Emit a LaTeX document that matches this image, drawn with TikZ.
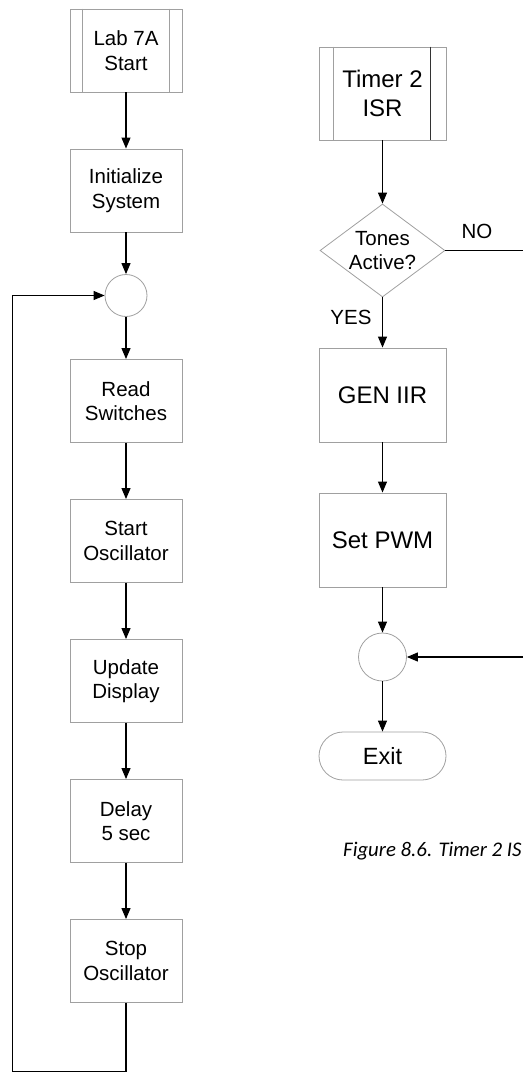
\documentclass[tikz,border=0pt]{standalone}
\usepackage{fontspec}
\setmainfont{Liberation Sans}
\newfontfamily\captfont{Carlito}
\usetikzlibrary{arrows.meta,shapes.geometric,calc}
\definecolor{boxgray}{HTML}{A0A0A0}
\tikzset{
  box/.style={draw=boxgray,line width=0.9pt,fill=white,minimum width=112pt,minimum height=83pt,inner sep=0pt,align=center,font=\fontsize{20.5}{24.5}\selectfont},
  rbox/.style={draw=boxgray,line width=0.9pt,fill=white,minimum width=127pt,minimum height=94pt,inner sep=0pt,align=center,font=\fontsize{24}{29}\selectfont},
  joint/.style={draw=boxgray,line width=0.8pt,circle,inner sep=0pt},
  arr/.style={draw=black,line width=1.1pt,-{Triangle[length=11pt,width=9pt]}},
  ln/.style={draw=black,line width=1.1pt},
  lbl/.style={font=\fontsize{20.5}{24.5}\selectfont,inner sep=0pt}
}
\begin{document}
\begin{tikzpicture}[x=1pt,y=-1pt]
\useasboundingbox (0,0) rectangle (523,1073);
% left column
\node[box] (lab) at (126,50.5) {Lab 7A\\Start};
\draw[boxgray,line width=0.9pt] ($(lab.north west)+(13,0)$) -- ($(lab.south west)+(13,0)$);
\draw[boxgray,line width=0.9pt] ($(lab.north east)+(-13,0)$) -- ($(lab.south east)+(-13,0)$);
\node[box] (init) at (126,190.5) {Initialize\\System};
\node[joint,minimum size=42pt] (c1) at (126,295.5) {};
\node[box] (read) at (126,401) {Read\\Switches};
\node[box] (start) at (126,541) {Start\\Oscillator};
\node[box] (upd) at (126,681) {Update\\Display};
\node[box] (delay) at (126,821) {Delay\\5 sec};
\node[box] (stop) at (126,961) {Stop\\Oscillator};
\draw[arr] (lab.south) -- (init.north);
\draw[arr] (init.south) -- (c1.north);
\draw[arr] (c1.south) -- (read.north);
\draw[arr] (read.south) -- (start.north);
\draw[arr] (start.south) -- (upd.north);
\draw[arr] (upd.south) -- (delay.north);
\draw[arr] (delay.south) -- (stop.north);
\coordinate (b1) at (126,1071.5);
\coordinate (b2) at (12.7,1071.5);
\draw[arr] (stop.south) -- (b1) -- (b2) |- (c1.west);
% right column
\node[rbox,minimum height=93pt] (isr) at (382.5,93.5) {Timer 2\\ISR};
\draw[boxgray,line width=0.9pt] ($(isr.north west)+(15,0)$) -- ($(isr.south west)+(15,0)$);
\draw[black!80,line width=0.9pt] ($(isr.north east)+(-16,0)$) -- ($(isr.south east)+(-16,0)$);
\node[draw=boxgray,line width=0.8pt,diamond,minimum width=125pt,minimum height=93pt,aspect=1.34,inner sep=0pt,align=center,font=\fontsize{20.5}{24}\selectfont] (dia) at (382.5,250.5) {Tones\\Active?};
\node[rbox] (gen) at (382.5,395) {GEN IIR};
\node[rbox] (pwm) at (382.5,540) {Set PWM};
\node[joint,minimum size=48pt] (c2) at (382.5,657) {};
\node[draw=boxgray,line width=0.8pt,rounded corners=24pt,minimum width=127pt,minimum height=48pt,inner sep=0pt,font=\fontsize{23.5}{28}\selectfont] (exit) at (382.5,756) {Exit};
\draw[arr] (isr.south) -- (dia.north);
\draw[arr] (dia.south) -- (gen.north);
\draw[arr] (gen.south) -- (pwm.north);
\draw[arr] (pwm.south) -- (c2.north);
\draw[arr] (c2.south) -- (exit.north);
\coordinate (e1) at (523,250.5);
\coordinate (e2) at (523,657);
\draw[ln] (dia.east) -- (e1);
\draw[arr] (e2) -- (c2.east);
\node[lbl,anchor=base] (no) at (477,238) {NO};
\node[lbl,anchor=base] (yes) at (351,324) {YES};
\node[anchor=base west,inner sep=0pt,font=\captfont\itshape\fontsize{20.8}{24}\selectfont] (cap) at (343,856) {Figure 8.6. Timer 2 IS};
\end{tikzpicture}
\end{document}
